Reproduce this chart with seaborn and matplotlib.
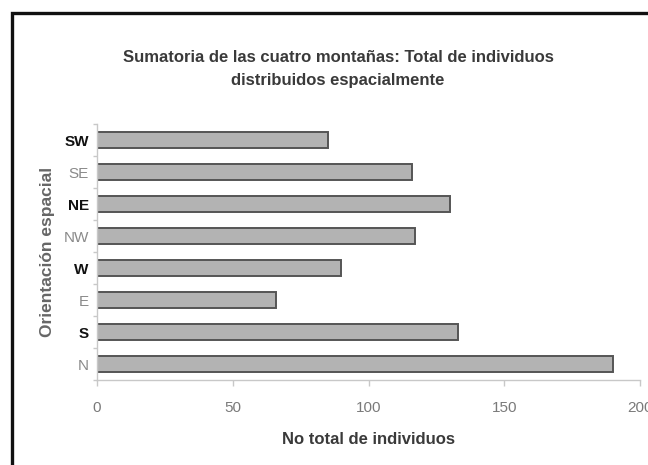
import matplotlib
matplotlib.use("Agg")
import matplotlib.pyplot as plt
import matplotlib.patches as patches
import seaborn as sns
import pandas as pd

# values
orientaciones = ["SW", "SE", "NE", "NW", "W", "E", "S", "N"]
individuos = [85, 116, 130, 117, 90, 66, 133, 190]
etiquetas_negrita = ["SW", "NE", "W", "S"]
x_ticks = [0, 50, 100, 150, 200]

sns.set_theme(style="white")
plt.rcParams['font.family'] = ['Liberation Sans', 'DejaVu Sans']

df = pd.DataFrame({"orientacion": orientaciones, "total": individuos})

fig = plt.figure(figsize=(6.48, 4.65), dpi=100)
ax = fig.add_axes([97 / 648, 1 - 380 / 465, (640 - 97) / 648, (380 - 124) / 465])

sns.barplot(data=df, x="total", y="orientacion", order=orientaciones, orient="h",
            color="#b3b3b3", saturation=1, width=0.47,
            edgecolor="#555555", linewidth=1.4, ax=ax)

ax.set_xlim(0, 200)
ax.set_xticks(x_ticks)
ax.set_xticklabels([str(t) for t in x_ticks], fontsize=11, color="#7a7a7a")
ax.set_ylim(len(orientaciones) - 0.5, -0.5)

for sp in ["top", "right"]:
    ax.spines[sp].set_visible(False)
for sp in ["left", "bottom"]:
    ax.spines[sp].set_color("#c8c8c8")
    ax.spines[sp].set_linewidth(1.0)

ax.tick_params(axis="x", which="major", length=4, width=1, color="#c8c8c8",
               direction="out", pad=11, bottom=True)
ax.set_yticks([i + 0.5 for i in range(-1, len(orientaciones))], minor=True)
ax.tick_params(axis="y", which="minor", length=3, width=1, color="#c8c8c8",
               direction="out", left=True)
ax.tick_params(axis="y", which="major", length=0, pad=6)

for lab in ax.get_yticklabels():
    if lab.get_text() in etiquetas_negrita:
        lab.set_fontweight("bold")
        lab.set_color("#111111")
    else:
        lab.set_color("#8a8a8a")
    lab.set_fontsize(11)

ax.set_xlabel("No total de individuos", fontsize=12, fontweight="bold",
              color="#3a3a3a", labelpad=12)
ax.set_ylabel("Orientación espacial", fontsize=12.5, fontweight="bold",
              color="#666666", labelpad=6)

fig.text(338 / 648, 1 - 57 / 465, "Sumatoria de las cuatro montañas: Total de individuos",
         ha="center", va="center", fontsize=12, fontweight="bold", color="#3a3a3a")
fig.text(338 / 648, 1 - 80 / 465, "distribuidos espacialmente",
         ha="center", va="center", fontsize=12, fontweight="bold", color="#3a3a3a")

# outer chart frame, running off the right and bottom edges
frame = patches.Rectangle((12 / 648, -0.05), 1.1, 1 - 13 / 465 + 0.05,
                          transform=fig.transFigure, fill=False,
                          edgecolor="#111111", linewidth=2.4, clip_on=False)
fig.patches.append(frame)

fig.savefig("out.png", dpi=100)
